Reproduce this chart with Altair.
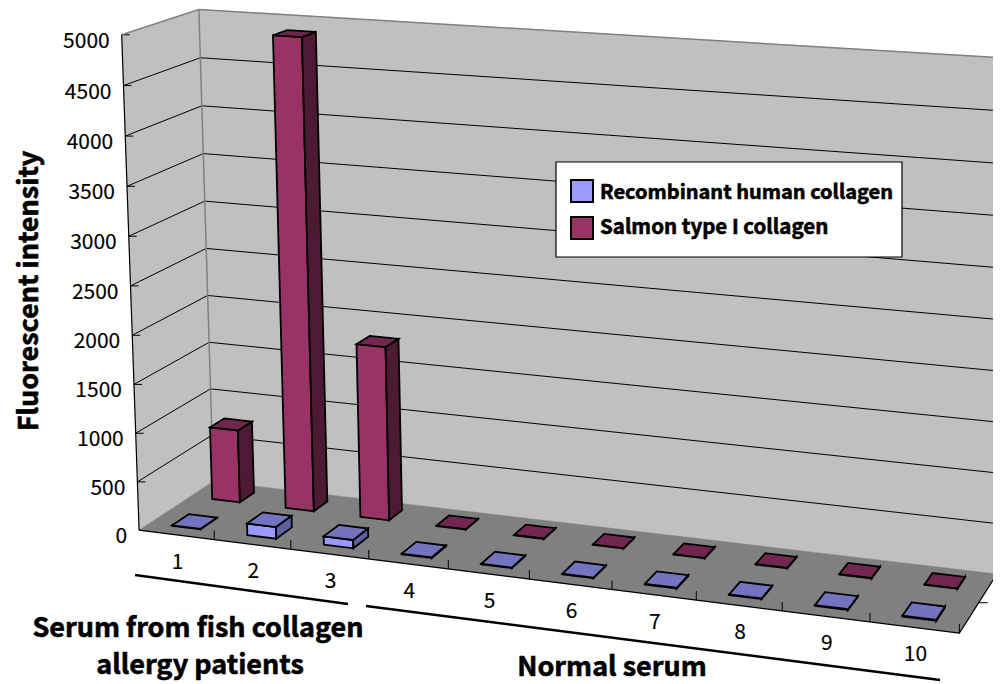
import numpy as np
import pandas as pd
import altair as alt

categories = ["1", "2", "3", "4", "5", "6", "7", "8", "9", "10"]
human = [5, 120, 85, 8, 5, 6, 8, 6, 6, 10]
salmon = [763, 4880, 1797, 5, 5, 5, 5, 5, 5, 5]
value_ticks = [0, 500, 1000, 1500, 2000, 2500, 3000, 3500, 4000, 4500, 5000]
legend_labels = ["Recombinant human collagen", "Salmon type I collagen"]
FONT = "Noto Sans CJK JP"

# camera calibration: (category pos, depth, value) -> picture position
calib = [
    (0, 0, 0, 141, 528), (10, 0, 0, 960, 634), (0, 1, 0, 210, 483), (10, 1, 0, 997, 573),
    (0, 0, 5000, 120, 34), (0, 1, 5000, 200, 8), (10, 1, 5000, 1003, 58),
    (0, 0, 4500, 122, 86), (0, 0, 4000, 125, 138), (0, 0, 1000, 136, 434), (0, 0, 500, 138, 481),
    (0, 1, 4500, 202, 57), (0, 1, 4000, 203, 107), (10, 1, 4500, 1003, 111),
]
A, b = [], []
for u, d, v, x, y in calib:
    U, V = u / 10, v / 5000
    A.append([U, d, V, 1, 0, 0, 0, 0, -x * U, -x * d, -x * V]); b.append(x)
    A.append([0, 0, 0, 0, U, d, V, 1, -y * U, -y * d, -y * V]); b.append(y)
cam = np.linalg.lstsq(np.array(A, float), np.array(b, float), rcond=None)[0]


def proj(u, d, v):
    U, V = u / 10, v / 5000
    w = cam[8] * U + cam[9] * d + cam[10] * V + 1
    return ((cam[0] * U + cam[1] * d + cam[2] * V + cam[3]) / w,
            (cam[4] * U + cam[5] * d + cam[6] * V + cam[7]) / w)


polys_bg, polys_bars, lines_rows, texts = [], [], [], []


def add_poly(rows, pts, fill, stroke, sw):
    pid = f"p{len(polys_bg) + len(polys_bars):05d}"
    for i, (x, y) in enumerate(pts):
        rows.append(dict(poly=pid, i=i, px=x, py=y, fill=fill, stroke=stroke, sw=sw))


def add_line(pts, color, sw):
    pid = f"l{len(lines_rows):05d}"
    for i, (x, y) in enumerate(pts):
        lines_rows.append(dict(line=pid, i=i, px=x, py=y, color=color, sw=sw))


# walls and floor
add_poly(polys_bg, [proj(0, 1, 0), proj(10, 1, 0), proj(10, 1, 5000), proj(0, 1, 5000)], "#c0c0c0", "#c0c0c0", 0.5)
add_poly(polys_bg, [proj(0, 0, 0), proj(0, 1, 0), proj(0, 1, 5000), proj(0, 0, 5000)], "#c0c0c0", "#c0c0c0", 0.5)
add_poly(polys_bg, [proj(0, 0, 0), proj(10, 0, 0), proj(10, 1, 0), proj(0, 1, 0)], "#808080", "#808080", 0.5)

# grid lines, ticks
for v in value_ticks[1:-1]:
    add_line([proj(0, 0, v), proj(0, 1, v), proj(10, 1, v)], "#000000", 1)
for v in value_ticks[1:]:
    x, y = proj(0, 0, v)
    add_line([(x, y), (x + 8, y)], "#000000", 1)
add_line([proj(0, 0, 5000), proj(0, 1, 5000), proj(10, 1, 5000)], "#808080", 1.5)
add_line([proj(0, 1, 5000), proj(0, 1, 0)], "#808080", 1.5)
add_line([proj(0, 0, 5000), proj(0, 0, 0)], "#000000", 1.2)
add_line([proj(0, 0, 0), proj(10, 0, 0), proj(10, 1, 0)], "#000000", 1.2)
for k in range(1, 11):
    x, y = proj(k, 0, 0)
    add_line([(x, y), (x, y - 9)], "#000000", 1)
x, y = proj(10, 0.5, 0)
add_line([(x, y), (x + 9, y)], "#000000", 1)


def bar(u0, u1, d0, d1, v, front, side, top):
    add_poly(polys_bars, [proj(u0, d0, 0), proj(u1, d0, 0), proj(u1, d0, v), proj(u0, d0, v)], front, "#000000", 1.8)
    add_poly(polys_bars, [proj(u1, d0, 0), proj(u1, d1, 0), proj(u1, d1, v), proj(u1, d0, v)], side, "#000000", 1.8)
    add_poly(polys_bars, [proj(u0, d0, v), proj(u1, d0, v), proj(u1, d1, v), proj(u0, d1, v)], top, "#000000", 1.8)


for k, val in enumerate(salmon):
    bar(k + 0.30, k + 0.68, 0.68, 0.88, val, "#993366", "#4d1a33", "#732650")
for k, val in enumerate(human):
    bar(k + 0.30, k + 0.68, 0.14, 0.36, val, "#9999ff", "#5f5fa0", "#7373bf")


def add_text(text, x, y, size, weight="normal", align="center", angle=0):
    texts.append(dict(text=text, px=x, py=y, size=size, weight=weight, align=align, angle=angle))


for v in value_ticks:
    x, y = proj(0, 0, v)
    add_text(str(v), x - 12, y + 7, 21, align="right")
for k, c in enumerate(categories):
    x, y = proj(k + 0.5, 0, 0)
    add_text(c, x + 1, y + 28, 21)

x_scale = alt.Scale(domain=[8, 993], range=[0, 985], nice=False, zero=False)
y_scale = alt.Scale(domain=[8, 684], range=[0, 676], nice=False, zero=False)
X = alt.X("px:Q", scale=x_scale, axis=None)
Y = alt.Y("py:Q", scale=y_scale, axis=None)


def poly_layer(rows):
    return alt.Chart(pd.DataFrame(rows)).mark_line(interpolate="linear-closed", strokeJoin="miter").encode(
        x=X, y=Y, order="i:Q", detail="poly:N",
        fill=alt.Fill("fill:N", scale=None, legend=None),
        stroke=alt.Stroke("stroke:N", scale=None, legend=None),
        strokeWidth=alt.StrokeWidth("sw:Q", scale=None, legend=None))


def line_layer(rows):
    return alt.Chart(pd.DataFrame(rows)).mark_line().encode(
        x=X, y=Y, order="i:Q", detail="line:N",
        stroke=alt.Stroke("color:N", scale=None, legend=None),
        strokeWidth=alt.StrokeWidth("sw:Q", scale=None, legend=None))


def text_layer(items):
    layers = []
    for t in items:
        heavy = t["weight"] == "bold"
        layers.append(alt.Chart(pd.DataFrame([t])).mark_text(
            font=FONT, fontSize=t["size"], fontWeight=t["weight"], align=t["align"],
            baseline="middle", angle=t["angle"], color="#000000",
            stroke="#000000", strokeWidth=0.6 if heavy else 0.15).encode(
            x=X, y=Y, text="text:N"))
    return layers


# group brackets below the chart
bracket_rows = []
for name, pts in {"a": [(135, 575), (348, 604)], "b": [(366, 606), (940, 680)]}.items():
    for i, (x, y) in enumerate(pts):
        bracket_rows.append(dict(line=name, i=i, px=x, py=y, color="#000000", sw=2.5))

# legend box
legend_box = [dict(poly="box", i=i, px=x, py=y, fill="#ffffff", stroke="#000000", sw=1.2)
              for i, (x, y) in enumerate([(556, 162), (902, 162), (902, 257), (556, 257)])]
swatches = []
for n, (top, col) in enumerate([(180, "#9999ff"), (217, "#993366")]):
    for i, (x, y) in enumerate([(571, top), (593, top), (593, top + 22), (571, top + 22)]):
        swatches.append(dict(poly=f"s{n}", i=i, px=x, py=y, fill=col, stroke="#000000", sw=2))

for r in [
    (legend_labels[0], 600, 193, 20, "bold", "left", 0),
    (legend_labels[1], 600, 228, 20.5, "bold", "left", 0),
    ("Fluorescent intensity", 30, 291, 27, "bold", "center", 270),
    ("Serum from fish collagen", 198, 629, 27, "bold", "center", 0),
    ("allergy patients", 200, 666, 27, "bold", "center", 0),
    ("Normal serum", 612, 668, 27, "bold", "center", 0),
]:
    add_text(*r)

chart = alt.layer(
    poly_layer(polys_bg),
    line_layer(lines_rows),
    poly_layer(polys_bars),
    poly_layer(legend_box),
    poly_layer(swatches),
    line_layer(bracket_rows),
    *text_layer(texts),
).properties(width=985, height=676, padding=0, autosize=alt.AutoSizeParams(type="none"),
             background="#ffffff").configure_view(stroke=None)

chart.save("out.html", embed_options={"renderer": "svg", "actions": False})
